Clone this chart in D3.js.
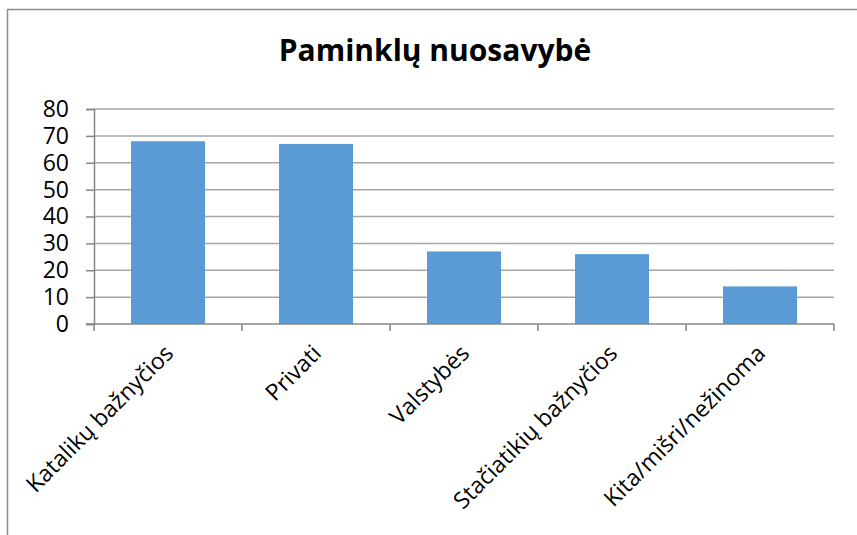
<!DOCTYPE html>
<html>
<head>
<meta charset="utf-8">
<script src="https://cdn.jsdelivr.net/npm/d3@7"></script>
<style>
  body { margin: 0; background: #fff; }
  text { font-family: "Open Sans", "Noto Sans", sans-serif; fill: #000; }
</style>
</head>
<body>
<div id="chart"></div>
<script>
// chart data
var title = "Paminklų nuosavybė";
var categories = ["Katalikų bažnyčios", "Privati", "Valstybės", "Stačiatikių bažnyčios", "Kita/mišri/nežinoma"];
var values = [68, 67, 27, 26, 14];
var yTicks = [0, 10, 20, 30, 40, 50, 60, 70, 80];

var width = 857, height = 535;
var plotLeft = 94, plotRight = 834, plotTop = 109, plotBottom = 324;

var svg = d3.select("#chart").append("svg")
    .attr("width", width)
    .attr("height", height);

// outer chart border (cut off at right / bottom like the screenshot)
svg.append("rect")
    .attr("x", 7.5).attr("y", 9.5)
    .attr("width", 900).attr("height", 600)
    .attr("fill", "none")
    .attr("stroke", "#8c8c8c")
    .attr("stroke-width", 1.5);

var x = d3.scaleBand()
    .domain(categories)
    .range([plotLeft, plotRight])
    .paddingInner(0.5)
    .paddingOuter(0.25);

var y = d3.scaleLinear()
    .domain([0, 80])
    .range([plotBottom, plotTop]);

// gridlines
svg.append("g")
    .selectAll("line")
    .data(yTicks.slice(1))
    .enter().append("line")
    .attr("x1", plotLeft).attr("x2", plotRight)
    .attr("y1", function(d) { return y(d); })
    .attr("y2", function(d) { return y(d); })
    .attr("stroke", "#a6a6a6")
    .attr("stroke-width", 1.5);

// bars
svg.append("g")
    .selectAll("rect")
    .data(values)
    .enter().append("rect")
    .attr("x", function(d, i) { return x(categories[i]); })
    .attr("y", function(d) { return y(d); })
    .attr("width", x.bandwidth())
    .attr("height", function(d) { return y(0) - y(d); })
    .attr("fill", "#5b9bd5");

// y axis
var yAxis = svg.append("g")
    .attr("transform", "translate(" + plotLeft + ",0)")
    .call(d3.axisLeft(y).tickValues(yTicks).tickSize(8).tickPadding(17));
yAxis.select(".domain").attr("stroke", "#868686").attr("stroke-width", 1.5);
yAxis.selectAll(".tick line").attr("stroke", "#868686").attr("stroke-width", 1.5);
yAxis.selectAll(".tick text")
    .attr("font-size", "23px")
    .attr("font-family", "'Open Sans', sans-serif")
    .attr("fill", "#000");

// x axis line + boundary ticks
var step = x.step();
var bounds = d3.range(categories.length + 1).map(function(i) { return plotLeft + i * step; });
svg.append("line")
    .attr("x1", plotLeft - 8).attr("x2", plotRight)
    .attr("y1", plotBottom).attr("y2", plotBottom)
    .attr("stroke", "#868686").attr("stroke-width", 1.5);
svg.append("g")
    .selectAll("line")
    .data(bounds)
    .enter().append("line")
    .attr("x1", function(d) { return d; }).attr("x2", function(d) { return d; })
    .attr("y1", plotBottom).attr("y2", plotBottom + 7)
    .attr("stroke", "#868686").attr("stroke-width", 1.5);

// category labels, rotated
svg.append("g")
    .selectAll("text")
    .data(categories)
    .enter().append("text")
    .attr("transform", function(d) {
        var cx = x(d) + x.bandwidth() / 2;
        return "translate(" + (cx + 1) + "," + (plotBottom + 25) + ") rotate(-45)";
    })
    .attr("text-anchor", "end")
    .attr("dy", "0.35em")
    .attr("font-size", "23px")
    .text(function(d) { return d; });

// title
svg.append("text")
    .attr("x", 435)
    .attr("y", 61)
    .attr("text-anchor", "middle")
    .attr("font-size", "30px")
    .attr("font-weight", "bold")
    .text(title);
</script>
</body>
</html>
